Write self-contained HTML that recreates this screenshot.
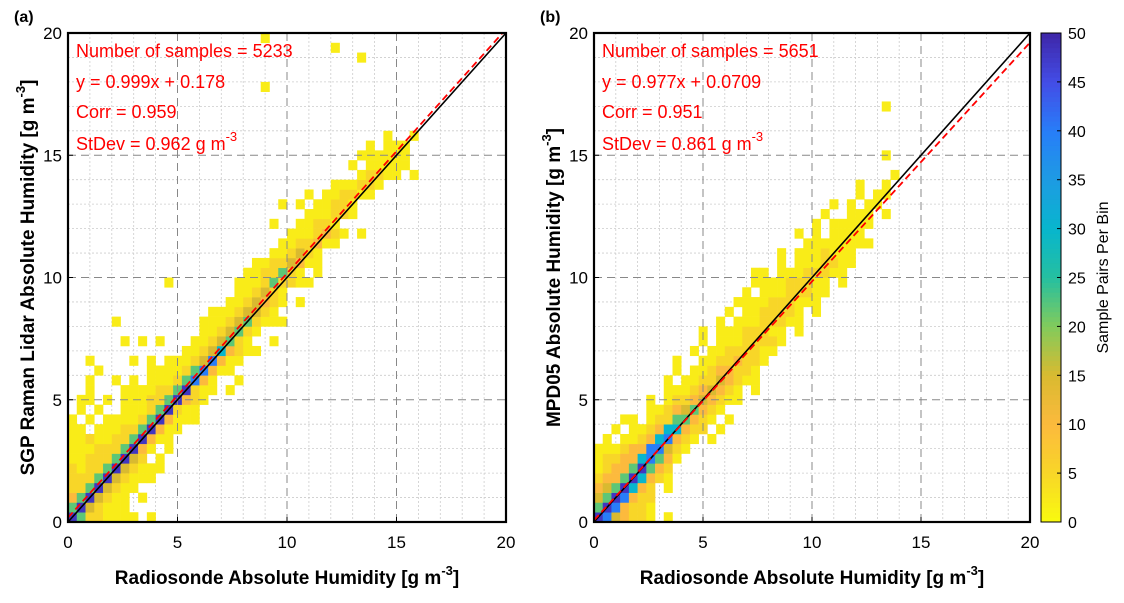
<!DOCTYPE html>
<html><head><meta charset="utf-8"><style>
body{margin:0;background:#fff;font-family:"Liberation Sans",Arial,sans-serif}
svg text{font-family:"Liberation Sans",Arial,sans-serif}
</style></head><body>
<svg id="fig" width="1124" height="598"></svg>
<script>
// ---- data ----
const binSize = 0.4;
const axisMin = 0, axisMax = 20;
const tickValues = [0,5,10,15,20];
const cbarTicks = [0,5,10,15,20,25,30,35,40,45,50];
const levelCounts = [0,2,5,10,15,22,30,40,48];
// rows from y=0 upward; char = level index; '|' marks the diagonal bin (x bin == y bin); no '|' => starts at x=0
const rowsA = [
"|85221111.1","5|842111","35|84211.1","225|84211","12225|842111","121225|842111","1112225|842.1",
"11112225|831.1","111211225|8311","111.111225|8311","11.1.111125|83111","1.1.1..11125|8211",
"..11.1.111225|8321","1..1...1111225|8211.1","..1..1.1.11125|731..1","...1.....111125|7311",
".1....1.1.11124|7311","..............1124|63211","1......1.1.1...1124|521..1",".................1124|521",
"......1.........11124|52111",".................11124|421","..................1124|321.1","..................1124|21",
"..........1.......11125|2211","...................11225|21.1","...................11224|311","....................1124|21",
"......................1122|311","......................1112|321.1",".....................1..1122|1",
"........................1112|21","......................1.1.1122|1",".........................1.1122|11",
"............................1112|21","..............................12|211.1",".............................1.11|111",
"..............................1111|11","...............................1.11|1","................................1..|1",
"","","","","......................1","","",".................................1","..............................1","......................1"];
const rowsB = [
"|8743221.1","45|873221","345|87322","2345|8632.1","12335|86321","112335|8532","1122336|7531",
".1112337|7421","1.11236|7321.1","1.11236|6322.1","11.1225|5321.1","..11234|5321","1.1223|43211",
"11123|4321.1","1.1122|43211","1.1123|3221","1..1122|3221","1.1122|2211","1.1112|2221","1.11122|211.1",
"1.1112|2211","1.1122|221.1","111122|2111","1.1112|2211","111122|211.1","11.1112|2211",".1.111|2211",
"1.1112|111","1111|1111","1.1.11|11","1.111|11","1..11|1.1","1.1.1|1","1.1|1","1..1|",
"..................................1","",".................................1","","","","",".................................1"];
const fitA = {slope:0.999, icpt:0.178};
const fitB = {slope:0.977, icpt:0.0709};
const statsA = ["Number of samples = 5233","y = 0.999x + 0.178","Corr = 0.959","StDev = 0.962 g m"];
const statsB = ["Number of samples = 5651","y = 0.977x + 0.0709","Corr = 0.951","StDev = 0.861 g m"];

const NS="http://www.w3.org/2000/svg";
const svg=document.getElementById('fig');
function mk(tag,attrs,parent){const e=document.createElementNS(NS,tag);for(const k in attrs)e.setAttribute(k,attrs[k]);(parent||svg).appendChild(e);return e;}
const parStops=[[0,[249,251,14]],[0.1,[248,214,40]],[0.2,[252,186,61]],[0.3,[217,186,48]],[0.4,[130,203,92]],[0.5,[37,191,160]],[0.6,[8,182,205]],[0.7,[29,155,227]],[0.8,[40,125,248]],[0.9,[67,77,230]],[1,[62,38,168]]];
function parula(t){t=Math.max(0,Math.min(1,t));for(let i=1;i<parStops.length;i++){if(t<=parStops[i][0]){const a=parStops[i-1],b=parStops[i];const f=(t-a[0])/(b[0]-a[0]);const c=a[1].map((v,j)=>Math.round(v+(b[1][j]-v)*f));return`rgb(${c})`;}}return'rgb(62,38,168)';}

function panel(L,R,T,B,rows,fit,stats,label,ylab,pname){
  const sx=v=>L+(v-axisMin)/(axisMax-axisMin)*(R-L);
  const sy=v=>B-(v-axisMin)/(axisMax-axisMin)*(B-T);
  const g=mk('g',{});
  
  
  for(let v=1;v<20;v++){ if(v%5===0) continue;
    mk('line',{x1:sx(v),x2:sx(v),y1:T,y2:B,stroke:'#ccc','stroke-width':0.8,'stroke-dasharray':'2,2'},g);
    mk('line',{x1:L,x2:R,y1:sy(v),y2:sy(v),stroke:'#ccc','stroke-width':0.8,'stroke-dasharray':'2,2'},g);}
  rows.forEach((row,r)=>{
    let start=0,s=row;
    const k=row.indexOf('|');
    if(k>=0){start=r-k;s=row.slice(0,k)+row.slice(k+1);}
    for(let i=0;i<s.length;i++){const ch=s[i];if(ch==='.')continue;const c=start+i;if(c<0)continue;
    const cnt=levelCounts[parseInt(ch)];
    const x0=c*binSize,y0=r*binSize;
    const cell=mk('rect',{x:sx(x0),y:sy(y0+binSize),width:sx(x0+binSize)-sx(x0)+0.3,height:sy(y0)-sy(y0+binSize)+0.3,fill:parula(cnt/50)},g);
    
    }});
  for(const v of [5,10,15]){
    mk('line',{x1:sx(v),x2:sx(v),y1:T,y2:B,stroke:'#888','stroke-width':1,'stroke-dasharray':'8,5'},g);
    mk('line',{x1:L,x2:R,y1:sy(v),y2:sy(v),stroke:'#888','stroke-width':1,'stroke-dasharray':'8,5'},g);}
  const one=mk('line',{x1:sx(0),y1:sy(0),x2:sx(20),y2:sy(20),stroke:'#000','stroke-width':1.6},g);
  
  
  const xe=Math.min(20,(20-fit.icpt)/fit.slope);
  const fl=mk('line',{x1:sx(0),y1:sy(fit.icpt),x2:sx(xe),y2:sy(fit.slope*xe+fit.icpt),stroke:'#f00','stroke-width':1.8,'stroke-dasharray':'7,4'},g);
  
  
  mk('rect',{x:L,y:T,width:R-L,height:B-T,fill:'none',stroke:'#000','stroke-width':2.2},g);
  tickValues.forEach(v=>{
    mk('line',{x1:sx(v),x2:sx(v),y1:B,y2:B-5,stroke:'#000'},g);
    mk('line',{x1:L,x2:L+5,y1:sy(v),y2:sy(v),stroke:'#000'},g);
    const tx=mk('text',{x:sx(v),y:B+26,'font-size':17,'text-anchor':'middle'},g);tx.textContent=v;
    
    
    const ty=mk('text',{x:L-6,y:sy(v)+6,'font-size':17,'text-anchor':'end'},g);ty.textContent=v;
    
    });
  const ys=[57,88,118,150];
  stats.forEach((s,i)=>{const t=mk('text',{x:L+8,y:ys[i],'font-size':18,fill:'#f00'},g);t.textContent=s;
    if(i===3){const sp=mk('tspan',{dy:-9,'font-size':13},t);sp.textContent='-3';}
    
    });
  const xl=mk('text',{x:(L+R)/2,y:584,'font-size':19,'font-weight':'bold','text-anchor':'middle'},g);
  xl.innerHTML='Radiosonde Absolute Humidity [g m<tspan dy="-9" font-size="13">-3</tspan><tspan dy="9">]</tspan>';
  
  
  const yx=L-34,yy=(T+B)/2;
  const yl=mk('text',{x:yx,y:yy,'font-size':19,'font-weight':'bold','text-anchor':'middle',transform:`rotate(-90 ${yx} ${yy})`},g);
  yl.innerHTML=ylab+' [g m<tspan dy="-9" font-size="13">-3</tspan><tspan dy="9">]</tspan>';
  
  
  const pl=mk('text',{x:L-54,y:22,'font-size':16,'font-weight':'bold'},g);pl.textContent=label;
  
  
}
panel(68,506,33,522,rowsA,fitA,statsA,'(a)','SGP Raman Lidar Absolute Humidity','panel-a');
panel(594,1030,33,522,rowsB,fitB,statsB,'(b)','MPD05 Absolute Humidity','panel-b');

// colorbar
const cb=mk('g',{});


const cL=1041,cR=1061,cT=33,cB=522;
for(let i=0;i<100;i++){const y0=cB-(i+1)*(cB-cT)/100;mk('rect',{x:cL,y:y0,width:cR-cL,height:(cB-cT)/100+0.5,fill:parula((i+0.5)/100)},cb);}
mk('rect',{x:cL,y:cT,width:cR-cL,height:cB-cT,fill:'none',stroke:'#000','stroke-width':1},cb);
cbarTicks.forEach(v=>{const y=cB-v/50*(cB-cT);
  mk('line',{x1:cR-4,x2:cR,y1:y,y2:y,stroke:'#000'},cb);
  const t=mk('text',{x:cR+7,y:y+6,'font-size':16},cb);t.textContent=v;
  
  });
const ct=mk('text',{x:1108,y:(cT+cB)/2,'font-size':16,'text-anchor':'middle',transform:`rotate(-90 1108 ${(cT+cB)/2})`},cb);
ct.textContent='Sample Pairs Per Bin';


</script>
</body></html>
